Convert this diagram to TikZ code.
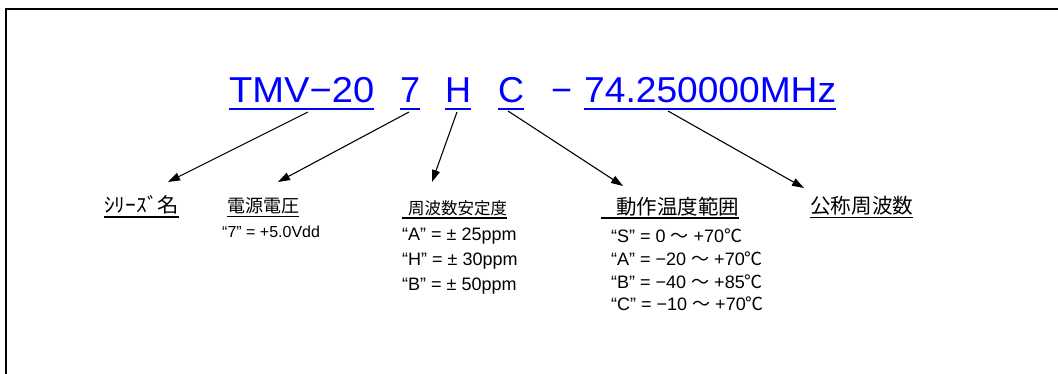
\documentclass[tikz,border=0pt]{standalone}
\usepackage{fontspec}
\setmainfont{Liberation Sans}
\newfontfamily\jp{Noto Sans CJK JP}
\usetikzlibrary{arrows.meta,calc}
\definecolor{refblue}{RGB}{0,0,255}
\begin{document}
\begin{tikzpicture}[x=1pt,y=-1pt,
  part/.style={inner sep=0pt,anchor=base west,text=refblue,font=\fontsize{36}{40}\selectfont},
  ulblue/.style={draw=refblue,line width=2.4pt},
  lbl/.style={inner sep=0pt,anchor=base west,text=black},
  ulblack/.style={draw=black,line width=1.6pt},
  val/.style={inner sep=0pt,anchor=base west,font=\fontsize{18}{20}\selectfont},
  arr/.style={draw=black,line width=1.1pt,-{Triangle[length=12pt,width=8pt]}},
  frame/.style={draw=black,line width=2.2pt}]
\useasboundingbox (0,0) rectangle (1058,374);
\clip (0,0) rectangle (1058,374);
\draw[frame] (6,380) -- (6,9) -- (1065,9);

% part number
\node[part] (tmv) at (229,103) {\scalebox{1.058}[1]{TMV−20}};
\node[part] (p7)  at (400,103) {7};
\node[part] (pH)  at (445,103) {H};
\node[part] (pC)  at (498,103) {C};
\node[part] (dash) at (551,103) {−};
\node[part] (mhz) at (584,103) {\scalebox{1.032}[1]{74.250000MHz}};
\foreach \n in {tmv,p7,pH,pC,mhz}
  \draw[ulblue] ([yshift=-6pt]\n.base west) -- ([yshift=-6pt]\n.base east);

% labels
\node[lbl,font={\jp\fontsize{20}{22}\selectfont}] (series) at (104,213) {\scalebox{1.07}[1]{ｼﾘｰｽﾞ名}};
\node[lbl,font={\jp\fontsize{18}{20}\selectfont}] (volt) at (227,213) {電源電圧};
\node[lbl,font={\jp\fontsize{16.5}{18}\selectfont}] (stab) at (402,214.5) {\hspace{6pt}周波数安定度\hspace{3pt}};
\node[lbl,font={\jp\fontsize{20.5}{22}\selectfont}] (temp) at (601,214.5) {\hspace{15pt}動作温度範囲\hspace{8pt}};
\node[lbl,font={\jp\fontsize{20.6}{22}\selectfont}] (freq) at (810,214) {公称周波数};
\draw[ulblack] ([yshift=-4pt]series.base west) -- ([yshift=-4pt]series.base east);
\draw[ulblack] ([yshift=-3.5pt]volt.base west) -- ([yshift=-3.5pt]volt.base east);
\draw[ulblack] ([yshift=-3.5pt]stab.base west) -- ([yshift=-3.5pt]stab.base east);
\draw[ulblack] ([yshift=-3.5pt]temp.base west) -- ([yshift=-3.5pt]temp.base east);
\draw[ulblack] ([yshift=-3.5pt]freq.base west) -- ([yshift=-3.5pt]freq.base east);

% values
\node[val,font=\fontsize{16}{18}\selectfont] (v7) at (222,238) {“7” = +5.0Vdd};
\node[val] (sA) at (402,240.5) {“A” = ± 25ppm};
\node[val] (sH) at (402,265.5) {“H” = ± 30ppm};
\node[val] (sB) at (402,290.5) {“B” = ± 50ppm};
\node[val] (tS) at (611,243) {“S” = 0 {\jp ～} +70{\jp ℃}};
\node[val] (tA) at (611,265.5) {“A” = −20 {\jp ～} +70{\jp ℃}};
\node[val] (tB) at (611,288) {“B” = −40 {\jp ～} +85{\jp ℃}};
\node[val] (tC) at (611,310.5) {“C” = −10 {\jp ～} +70{\jp ℃}};

% arrows
\draw[arr] ($(tmv.base west)+(79,9)$) -- ($(series.base west)+(64,-31)$);
\draw[arr] ($(p7.base west)+(9,9)$) -- ($(volt.base west)+(51,-31)$);
\draw[arr] ($(pH.base west)+(12,9)$) -- ($(stab.base west)+(30,-32.5)$);
\draw[arr] ($(pC.base west)+(10,8)$) -- ($(temp.base west)+(22,-28.5)$);
\draw[arr] ($(mhz.base west)+(84,8)$) -- ($(freq.base west)+(-6,-26)$);
\end{tikzpicture}
\end{document}
